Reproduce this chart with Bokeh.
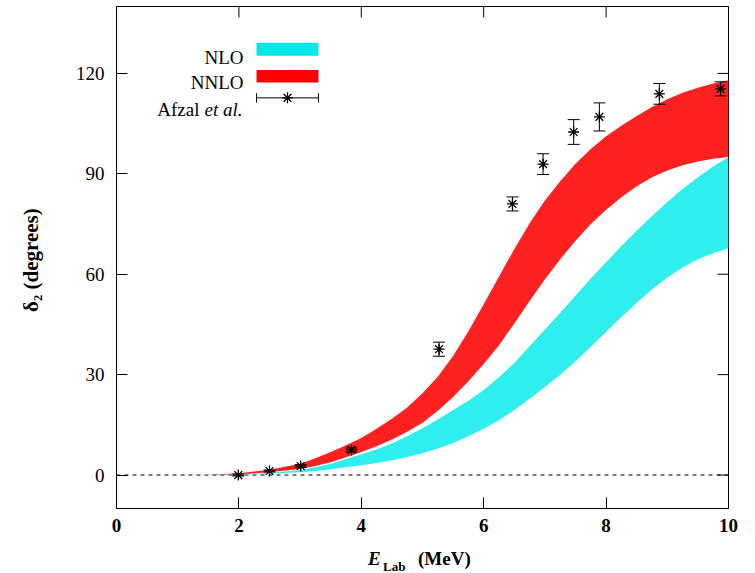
from bokeh.plotting import figure
from bokeh.layouts import column
from bokeh.models import (ColumnDataSource, Whisker, TeeHead, Span, Label,
                          FixedTicker, Range1d, Div)
from bokeh.embed import file_html
from bokeh.resources import INLINE

# ---------------- data ----------------
e_grid = [0.5, 1.0, 1.5, 2.0, 2.5, 3.0, 3.25, 3.5, 3.75, 4.0, 4.25, 4.5, 4.75,
          5.0, 5.25, 5.5, 5.75, 6.0, 6.25, 6.5, 6.75, 7.0, 7.25, 7.5, 7.75,
          8.0, 8.25, 8.5, 8.75, 9.0, 9.25, 9.5, 9.75, 10.0]
nlo_lo = [0.0, 0.0, 0.02, 0.1, 0.35, 0.8, 1.2, 1.7, 2.3, 2.9, 3.6, 4.4, 5.4,
          6.5, 7.9, 9.6, 11.6, 13.8, 16.4, 19.4, 22.8, 26.3, 30.0, 34.0, 38.3,
          42.8, 47.2, 51.5, 55.5, 59.0, 62.0, 64.5, 66.3, 67.8]
nlo_hi = [0.0, 0.01, 0.05, 0.2, 0.6, 1.5, 2.3, 3.4, 4.8, 6.2, 7.6, 9.4, 11.6,
          14.0, 16.6, 19.4, 22.2, 25.4, 29.2, 33.5, 38.5, 43.5, 48.5, 53.6, 58.7,
          63.6, 68.4, 73.0, 77.4, 81.6, 85.5, 89.0, 92.2, 95.0]
nnlo_lo = [0.0, 0.01, 0.05, 0.25, 0.8, 1.8, 2.7, 3.8, 5.3, 6.9, 8.6, 10.6, 12.9,
           15.6, 19.2, 23.3, 28.0, 33.2, 38.8, 45.3, 52.0, 58.5, 64.5, 70.0, 75.0,
           79.3, 83.0, 86.3, 89.0, 91.0, 92.6, 93.7, 94.5, 95.0]
nnlo_hi = [0.0, 0.02, 0.1, 0.5, 1.6, 3.4, 5.0, 6.9, 8.9, 11.1, 13.8, 16.8, 20.2,
           24.4, 29.4, 35.6, 43.0, 51.0, 59.3, 67.5, 75.2, 82.0, 87.8, 93.0, 97.4,
           101.2, 104.4, 107.3, 110.0, 112.3, 114.2, 115.7, 117.0, 118.0]

afzal_e = [1.99, 2.50, 3.01, 3.84, 5.27, 6.47, 6.97, 7.47, 7.89, 8.87, 9.87]
afzal_delta = [0.0, 1.2, 2.7, 7.5, 37.6, 81.0, 92.9, 102.5, 107.0, 113.9, 115.4]
afzal_err = [0.3, 0.3, 0.4, 0.6, 2.1, 2.1, 3.1, 3.7, 4.2, 3.1, 2.1]

x_ticks = [0, 2, 4, 6, 8, 10]
y_ticks = [0, 30, 60, 90, 120]
legend_labels = ["NLO", "NNLO", "Afzal", "et al."]
x_title = ["E", "Lab", "(MeV)"]
y_title = "δ₂  (degrees)"

X0, X1, Y0, Y1 = 0, 10, -10, 140
RED = "#ff2020"
CYAN = "#2eeeee"
FONT = "Liberation Serif"

FRAME_W, FRAME_H = 612, 502
TICK_PX = 11

# ---------------- main figure ----------------
p = figure(width=755, height=539, output_backend="svg", toolbar_location=None,
           title_location=None,
           x_range=Range1d(X0, X1), y_range=Range1d(Y0, Y1),
           min_border_left=116, min_border_right=27,
           min_border_top=6, min_border_bottom=31, margin=0)
p.xgrid.visible = False
p.ygrid.visible = False
p.outline_line_color = "black"
p.outline_line_width = 1
p.background_fill_color = "white"
p.border_fill_color = "white"

for ax, ticks, bold in ((p.xaxis[0], x_ticks, True), (p.yaxis[0], y_ticks, False)):
    ax.ticker = FixedTicker(ticks=ticks)
    ax.major_tick_in = TICK_PX
    ax.major_tick_out = 0
    ax.minor_tick_in = 0
    ax.minor_tick_out = 0
    ax.axis_line_color = "black"
    ax.major_tick_line_color = "black"
    ax.major_label_text_font = FONT
    ax.major_label_text_font_size = "19px"
    ax.major_label_text_font_style = "bold" if bold else "normal"
    ax.major_label_text_color = "black"
    ax.major_label_standoff = 10 if bold else 12

p.yaxis[0].axis_label = y_title
p.yaxis[0].axis_label_text_font = FONT
p.yaxis[0].axis_label_text_font_size = "21px"
p.yaxis[0].axis_label_text_font_style = "bold"
p.yaxis[0].axis_label_text_color = "black"
p.yaxis[0].axis_label_standoff = 30

# mirrored ticks on the top and right edges of the frame
dy_tick = TICK_PX * (Y1 - Y0) / FRAME_H
dx_tick = TICK_PX * (X1 - X0) / FRAME_W
p.segment(x0=x_ticks, x1=x_ticks, y0=[Y1] * len(x_ticks),
          y1=[Y1 - dy_tick] * len(x_ticks), line_color="black", line_width=1)
p.segment(x0=[X1] * len(y_ticks), x1=[X1 - dx_tick] * len(y_ticks),
          y0=y_ticks, y1=y_ticks, line_color="black", line_width=1)

# zero line
p.add_layout(Span(location=0, dimension="width", line_color="black",
                  line_dash="4 4", line_width=1, level="underlay"))

# bands
band_src = ColumnDataSource(dict(e=e_grid, nlo_lo=nlo_lo, nlo_hi=nlo_hi,
                                 nnlo_lo=nnlo_lo, nnlo_hi=nnlo_hi))
p.varea(x="e", y1="nlo_lo", y2="nlo_hi", source=band_src, fill_color=CYAN)
p.varea(x="e", y1="nnlo_lo", y2="nnlo_hi", source=band_src, fill_color=RED)

# data points with error bars
pts = ColumnDataSource(dict(
    e=afzal_e, d=afzal_delta,
    lo=[d - s for d, s in zip(afzal_delta, afzal_err)],
    hi=[d + s for d, s in zip(afzal_delta, afzal_err)]))
p.add_layout(Whisker(base="e", lower="lo", upper="hi", source=pts,
                     line_color="black", line_width=1, level="annotation",
                     upper_head=TeeHead(size=12, line_color="black", line_width=1),
                     lower_head=TeeHead(size=12, line_color="black", line_width=1)))
p.scatter(x="e", y="d", source=pts, marker="asterisk", size=11,
          line_color="black", line_width=1.3)

# ---------------- legend (drawn by hand) ----------------
def lab(fig, x, y, text, size="19px", style="normal", align="right"):
    fig.add_layout(Label(x=x, y=y, text=text, text_font=FONT, text_font_size=size,
                         text_font_style=style, text_align=align,
                         text_baseline="alphabetic", text_color="black"))

lab(p, 2.075, 124.7, legend_labels[0])
lab(p, 2.075, 117.3, legend_labels[1])
lab(p, 1.356, 109.2, legend_labels[2])
lab(p, 2.06, 109.2, legend_labels[3], style="italic")
p.quad(left=[2.288], right=[3.30], bottom=[125.3], top=[129.2],
       fill_color="#00e8e8", line_color=None)
p.quad(left=[2.288], right=[3.30], bottom=[117.3], top=[121.0],
       fill_color="#ff0000", line_color=None)
p.segment(x0=[2.288, 2.288, 3.30], y0=[112.7, 111.3, 111.3],
          x1=[3.30, 2.288, 3.30], y1=[112.7, 114.1, 114.1],
          line_color="black", line_width=1)
p.scatter(x=[2.794], y=[112.7], marker="asterisk", size=11,
          line_color="black", line_width=1.3)

# ---------------- x axis title strip: E_Lab (MeV) ----------------
span_css = ("position:absolute;white-space:nowrap;line-height:1;"
            "font-family:'Liberation Serif',serif;font-weight:bold;color:#000;")
title_html = (
    '<div style="position:relative;width:755px;height:34px;overflow:visible;">'
    f'<span style="{span_css}left:368px;top:10px;font-size:19px;font-style:italic;">{x_title[0]}</span>'
    f'<span style="{span_css}left:383px;top:21px;font-size:13px;">{x_title[1]}</span>'
    f'<span style="{span_css}left:418px;top:10px;font-size:19px;">{x_title[2]}</span>'
    '</div>')
xlabel = Div(text=title_html, width=755, height=34, margin=0)

layout = column(p, xlabel, spacing=0, margin=0)
open("out.html", "w").write(file_html(layout, INLINE))
